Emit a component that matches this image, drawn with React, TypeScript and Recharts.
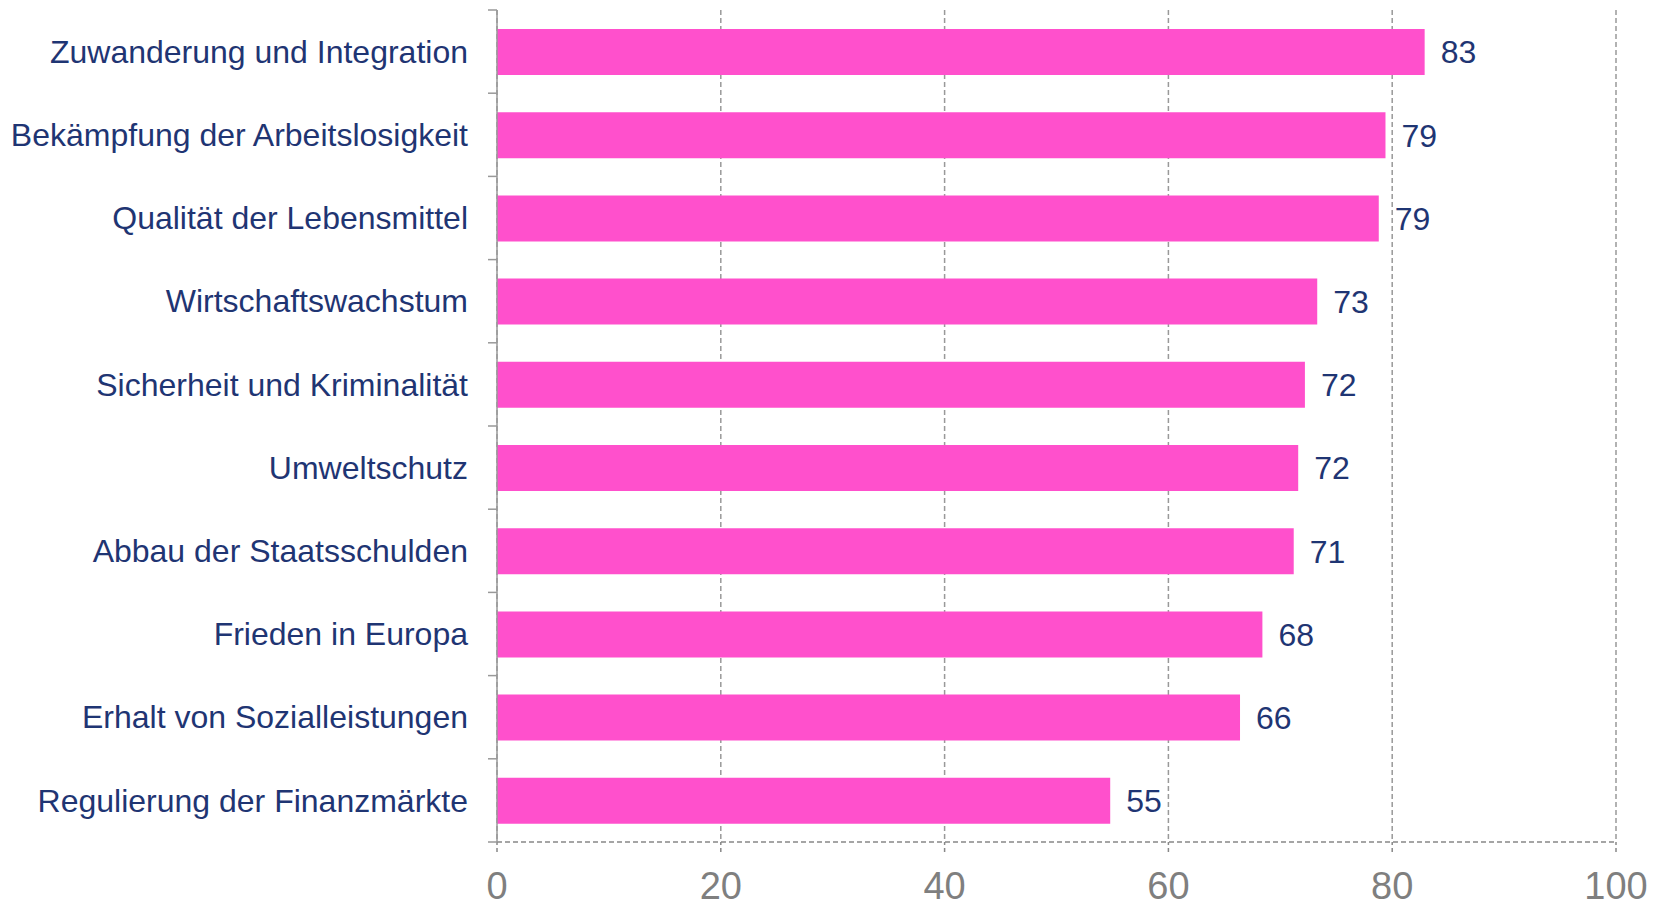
import { Bar, BarChart, CartesianGrid, LabelList, XAxis, YAxis } from "recharts";

const topics = [
    "Zuwanderung und Integration",
    "Bekämpfung der Arbeitslosigkeit",
    "Qualität der Lebensmittel",
    "Wirtschaftswachstum",
    "Sicherheit und Kriminalität",
    "Umweltschutz",
    "Abbau der Staatsschulden",
    "Frieden in Europa",
    "Erhalt von Sozialleistungen",
    "Regulierung der Finanzmärkte",
];
const shares = [82.9, 79.4, 78.8, 73.3, 72.2, 71.6, 71.2, 68.4, 66.4, 54.8];
const xTicks = [0, 20, 40, 60, 80, 100];

const data = topics.map((topic, i) => ({ topic, value: shares[i] }));

const FONT = "'Liberation Sans', Arial, sans-serif";
const NAVY = "#1f3573";

function TopicTick(props: any) {
    const { x, y, payload, index } = props;
    const half = payload?.offset ?? 41.6;
    const ax = x + 20;
    return (
        <g>
            <line x1={ax} x2={ax + 9} y1={y - half} y2={y - half} stroke="#999" strokeWidth={1.5} />
            {index === topics.length - 1 && (
                <line x1={ax} x2={ax + 9} y1={y + half} y2={y + half} stroke="#999" strokeWidth={1.5} />
            )}
            <text x={x} y={y} dy="0.35em" textAnchor="end" fill={NAVY} fontSize={32} fontFamily={FONT}>
                {payload.value}
            </text>
        </g>
    );
}

export default function App() {
    return (
        <div style={{ position: "absolute", left: 0, top: 0 }}>
            <BarChart
                width={1663}
                height={904}
                data={data}
                layout="vertical"
                margin={{ top: 10, right: 47, bottom: 0, left: 0 }}
            >
                <CartesianGrid horizontal={false} stroke="#999" strokeDasharray="5 3" strokeWidth={1.5} />
                <XAxis
                    type="number"
                    domain={[0, 100]}
                    ticks={xTicks}
                    height={62}
                    axisLine={{ stroke: "#888", strokeDasharray: "5 3", strokeWidth: 1.5 }}
                    tickLine={{ stroke: "#888", strokeDasharray: "4 3", strokeWidth: 1.5 }}
                    tickSize={10}
                    tickMargin={20}
                    tick={{ fill: "#7f7f7f", fontSize: 38, fontFamily: FONT }}
                />
                <YAxis
                    type="category"
                    dataKey="topic"
                    width={497}
                    axisLine={{ stroke: "#999", strokeWidth: 1.5 }}
                    tickLine={false}
                    tickSize={9}
                    tickMargin={20}
                    interval={0}
                    tick={<TopicTick />}
                />
                <Bar dataKey="value" fill="#ff50cc" barSize={46} isAnimationActive={false}>
                    <LabelList
                        dataKey="value"
                        position="right"
                        offset={16}
                        formatter={(v: any) => Math.round(Number(v))}
                        fill={NAVY}
                        fontSize={32}
                        fontFamily={FONT}
                    />
                </Bar>
            </BarChart>
        </div>
    );
}
